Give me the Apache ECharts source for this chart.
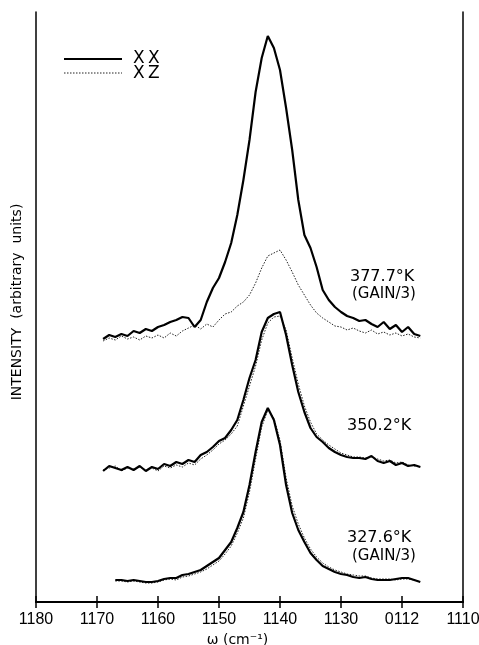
<!DOCTYPE html>
<html><head><meta charset="utf-8">
<script src="https://cdn.jsdelivr.net/npm/echarts@6/dist/echarts.min.js"></script>
<style>html,body{margin:0;padding:0;background:#fff}#c{width:479px;height:645px}</style>
</head><body><div id="c"></div>
<script>
// Wavenumber (cm^-1)
const tickValues = [1110, 1120, 1130, 1140, 1150, 1160, 1170, 1180];
const tickLabels = ['1110', '0112', '1130', '1140', '1150', '1160', '1170', '1180'];

// x grid for the 377.7 K and 350.2 K spectra
const wTop = [1169,1168,1167,1166,1165,1164,1163,1162,1161,1160,1159,1158,1157,1156,1155,1154,1153,1152,1151,1150,1149,1148,1147,1146,1145,1144,1143,1142,1141,1140,1139,1138,1137,1136,1135,1134,1133,1132,1131,1130,1129,1128,1127,1126,1125,1124,1123,1122,1121,1120,1119,1118,1117];
// x grid for the 327.6 K spectra
const wBot = [1167,1166,1165,1164,1163,1162,1161,1160,1159,1158,1157,1156,1155,1154,1153,1152,1151,1150,1149,1148,1147,1146,1145,1144,1143,1142,1141,1140,1139,1138,1137,1136,1135,1134,1133,1132,1131,1130,1129,1128,1127,1126,1125,1124,1123,1122,1121,1120,1119,1118,1117];

// intensities (arbitrary units, stacked offsets included)
const xx377 = [263,267,265,268,266,271,269,273,271,275,277,280,282,285,284,275,282,300,314,324,340,359,387,422,462,510,544,566,554,532,494,452,402,367,354,335,312,302,295,290,286,284,281,282,278,275,280,273,277,270,275,268,266];
const xz377 = [261,264,262,266,263,265,262,266,264,267,264,269,266,271,274,277,273,278,275,282,288,290,296,300,307,319,334,346,349,352,342,330,317,307,297,289,284,280,276,275,272,274,271,269,272,268,270,267,269,266,268,265,264];
const xx350 = [131,136,134,132,135,132,136,131,135,133,138,136,140,138,142,140,147,150,155,161,164,172,182,202,224,242,270,284,288,290,267,237,210,190,174,165,160,154,150,147,145,144,144,143,146,141,139,141,137,139,136,137,135];
const xz350 = [132,134,136,131,134,133,135,132,134,131,136,134,137,135,139,137,143,147,152,158,162,168,176,196,216,236,262,279,285,286,272,244,218,196,180,168,162,157,153,149,147,145,145,144,145,143,141,142,139,140,137,136,135];
const xx327 = [22,22,21,22,21,20,20,21,23,24,24,27,28,30,32,36,40,44,52,60,74,90,117,150,180,194,182,157,117,89,72,60,49,42,36,33,30,28,27,25,24,25,23,22,22,22,23,24,24,22,20];
const xz327 = [21,21,20,21,20,19,19,20,22,23,22,25,26,28,30,33,37,41,48,56,69,84,110,143,175,192,184,162,124,96,78,64,53,45,39,35,32,30,28,27,26,26,24,23,23,23,22,23,23,22,20];

const seriesNames = ['XX', 'XZ'];
const tempLabels = ['377.7°K', '(GAIN/3)', '350.2°K', '327.6°K', '(GAIN/3)'];

const zip = (xs, ys) => xs.map((x, i) => [x, ys[i]]);
const solid = {color: '#000', width: 2.2, type: 'solid'};
const dotted = {color: '#222', width: 1, type: [1.5, 1.5]};
const mk = (name, data, ls) => ({
  name, type: 'line', data, symbol: 'none', smooth: false,
  lineStyle: ls, itemStyle: {color: ls.color}, animation: false, z: name === 'XX' ? 3 : 2
});

const chart = echarts.init(document.getElementById('c'), null, {renderer: 'canvas'});
const font = 'DejaVu Sans';
chart.setOption({
  backgroundColor: '#fff',
  animation: false,
  grid: {left: 36, right: 16, top: 12, bottom: 43, containLabel: false, outerBoundsMode: 'none'},
  xAxis: [{
    type: 'value', min: 1110, max: 1180, interval: 10, inverse: true, position: 'bottom',
    axisLine: {show: true, lineStyle: {color: '#000', width: 2}},
    axisTick: {show: true, inside: true, length: 6, lineStyle: {color: '#000', width: 1.5}},
    splitLine: {show: false},
    axisLabel: {
      color: '#000', fontFamily: 'Liberation Sans', fontSize: 16, margin: 10,
      formatter: v => tickLabels[tickValues.indexOf(v)]
    },
    name: 'ω (cm\u207B\u00B9)', nameLocation: 'middle', nameGap: 26,
    nameTextStyle: {color: '#000', fontFamily: font, fontSize: 14, padding: [0, 24, 0, 0]}
  }, {
    type: 'value', min: 1110, max: 1180, interval: 10, inverse: true, position: 'top',
    axisLine: {show: true, lineStyle: {color: '#000', width: 2}},
    axisTick: {show: true, inside: true, length: 6, lineStyle: {color: '#000', width: 1.5}},
    splitLine: {show: false}, axisLabel: {show: false}
  }],
  yAxis: [{
    type: 'value', min: 0, max: 590, position: 'left',
    axisLine: {show: true, lineStyle: {color: '#000', width: 1.5}},
    axisTick: {show: false}, axisLabel: {show: false}, splitLine: {show: false},
    name: 'INTENSITY  (arbitrary  units)', nameLocation: 'middle', nameGap: 12,
    nameTextStyle: {color: '#000', fontFamily: font, fontSize: 14, padding: [0, 0, 0, 10]}
  }, {
    type: 'value', min: 0, max: 590, position: 'right',
    axisLine: {show: true, lineStyle: {color: '#000', width: 1.5}},
    axisTick: {show: false}, axisLabel: {show: false}, splitLine: {show: false}
  }],
  series: [
    mk('XZ', zip(wTop, xz377), dotted),
    mk('XX', zip(wTop, xx377), solid),
    mk('XZ', zip(wTop, xz350), dotted),
    mk('XX', zip(wTop, xx350), solid),
    mk('XZ', zip(wBot, xz327), dotted),
    mk('XX', zip(wBot, xx327), solid)
  ],
  graphic: [
    {type: 'line', shape: {x1: 64, y1: 59, x2: 122, y2: 59}, style: {stroke: '#000', lineWidth: 2}},
    {type: 'line', shape: {x1: 64, y1: 73, x2: 122, y2: 73}, style: {stroke: '#222', lineWidth: 1, lineDash: [1.5, 1.5]}},
    {type: 'text', left: 133, top: 50, style: {text: 'X\u2009X', font: '17px "DejaVu Sans"', fill: '#000'}},
    {type: 'text', left: 133, top: 65, style: {text: 'X\u2009Z', font: '17px "DejaVu Sans"', fill: '#000'}},
    {type: 'text', left: 350, top: 269, style: {text: tempLabels[0], font: '16px "DejaVu Sans"', fill: '#000'}},
    {type: 'text', left: 352, top: 287, style: {text: tempLabels[1], font: '15px "DejaVu Sans"', fill: '#000'}},
    {type: 'text', left: 347, top: 418, style: {text: tempLabels[2], font: '16px "DejaVu Sans"', fill: '#000'}},
    {type: 'text', left: 347, top: 530, style: {text: tempLabels[3], font: '16px "DejaVu Sans"', fill: '#000'}},
    {type: 'text', left: 352, top: 549, style: {text: tempLabels[4], font: '15px "DejaVu Sans"', fill: '#000'}}
  ]
});
</script></body></html>
